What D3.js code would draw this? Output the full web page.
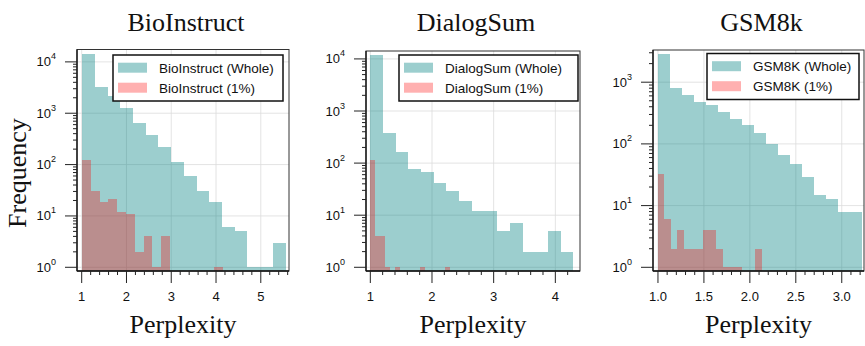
<!DOCTYPE html>
<html><head><meta charset="utf-8">
<script src="https://cdn.jsdelivr.net/npm/d3@7"></script>
<style>
body{margin:0;background:#fff;}
svg{display:block;}
</style></head>
<body><svg id="chart" width="865" height="346"></svg>
<script>
// ---------- data ----------
const panelTitles = ["BioInstruct", "DialogSum", "GSM8k"];
const legendWhole = ["BioInstruct (Whole)", "DialogSum (Whole)", "GSM8K (Whole)"];
const legendSubset = ["BioInstruct (1%)", "DialogSum (1%)", "GSM8K (1%)"];

// BioInstruct
const bioWholeStart = 1.01, bioWholeWidth = 0.284;
const bioWholeCounts = [14000, 3200, 2200, 1250, 650, 375, 220, 110, 60, 30, 19, 6, 5, 1, 1, 3];
const bioSubStart = 1.01, bioSubWidth = 0.196;
const bioSubCounts = [122, 30, 19, 21, 12, 11, 2, 4, 1, 4, 0, 0, 0, 0, 0, 1];
const bioXTicks = [1, 2, 3, 4, 5];
const bioXDomain = [0.895, 5.63];
const bioYDomain = [0.847, 17420];
const bioYTicks = [1, 10, 100, 1000, 10000];

// DialogSum
const dlgWholeStart = 1.0, dlgWholeWidth = 0.2058;
const dlgWholeCounts = [11700, 380, 160, 76, 67, 42, 29, 19, 12, 12, 5, 7, 2, 2, 5, 2];
const dlgSubStart = 1.0, dlgSubWidth = 0.081;
const dlgSubCounts = [115, 4, 4, 1, 0, 1, 0, 0, 0, 0, 1, 0, 0, 0, 0, 1];
const dlgXTicks = [1, 2, 3, 4];
const dlgXDomain = [0.93, 4.40];
const dlgYDomain = [0.849, 14190];
const dlgYTicks = [1, 10, 100, 1000, 10000];

// GSM8k
const gsmWholeStart = 1.0, gsmWholeWidth = 0.1304;
const gsmWholeCounts = [2880, 820, 610, 475, 430, 335, 255, 204, 148, 100, 66, 47, 29, 15, 13, 8, 8];
const gsmSubStart = 1.0, gsmSubWidth = 0.0707;
const gsmSubCounts = [33, 6, 2, 4, 2, 2, 2, 4, 4, 2, 1, 1, 1, 0, 0, 2];
const gsmXTicks = [1.0, 1.5, 2.0, 2.5, 3.0];
const gsmXDomain = [0.946, 3.242];
const gsmYDomain = [0.871, 3325];
const gsmYTicks = [1, 10, 100, 1000];

// ---------- layout ----------
const layout = [
  {left: 77, right: 289, top: 49.5, bottom: 271, legX: 113, legW: 170, legY: 55, minor: 0.2, fmt: d3.format("d")},
  {left: 366, right: 580, top: 51, bottom: 271, legX: 399, legW: 179, legY: 55, minor: 0.2, fmt: d3.format("d")},
  {left: 653, right: 864, top: 50, bottom: 271, legX: 707, legW: 152, legY: 53.5, minor: 0.1, fmt: d3.format(".1f")}
];
const panels = [
  {wS: bioWholeStart, wW: bioWholeWidth, wC: bioWholeCounts, sS: bioSubStart, sW: bioSubWidth, sC: bioSubCounts, xt: bioXTicks, xd: bioXDomain, yd: bioYDomain, yt: bioYTicks},
  {wS: dlgWholeStart, wW: dlgWholeWidth, wC: dlgWholeCounts, sS: dlgSubStart, sW: dlgSubWidth, sC: dlgSubCounts, xt: dlgXTicks, xd: dlgXDomain, yd: dlgYDomain, yt: dlgYTicks},
  {wS: gsmWholeStart, wW: gsmWholeWidth, wC: gsmWholeCounts, sS: gsmSubStart, sW: gsmSubWidth, sC: gsmSubCounts, xt: gsmXTicks, xd: gsmXDomain, yd: gsmYDomain, yt: gsmYTicks}
];

const tealFill = "rgb(0,128,128)", tealOp = 0.39;
const redFill = "rgb(255,0,0)", redOp = 0.31;
const sansFont = "'Liberation Sans', Arial, Helvetica, sans-serif";
const serifFont = "'Liberation Serif', 'Times New Roman', serif";

const svg = d3.select("#chart");

panels.forEach((p, i) => {
  const L = layout[i];
  const x = d3.scaleLinear().domain(p.xd).range([L.left, L.right]);
  const y = d3.scaleLog().domain(p.yd).range([L.bottom, L.top]);
  const g = svg.append("g");

  // grid
  g.selectAll("line.gx").data(p.xt).enter().append("line")
    .attr("x1", d => x(d)).attr("x2", d => x(d)).attr("y1", L.top).attr("y2", L.bottom)
    .attr("stroke", "#dcdcdc").attr("stroke-width", 0.8);
  g.selectAll("line.gy").data(p.yt).enter().append("line")
    .attr("y1", d => y(d)).attr("y2", d => y(d)).attr("x1", L.left).attr("x2", L.right)
    .attr("stroke", "#dcdcdc").attr("stroke-width", 0.8);

  // bars
  const whole = p.wC.map((c, k) => ({x0: p.wS + k * p.wW, x1: p.wS + (k + 1) * p.wW, c})).filter(d => d.c > 0);
  const sub = p.sC.map((c, k) => ({x0: p.sS + k * p.sW, x1: p.sS + (k + 1) * p.sW, c})).filter(d => d.c > 0);
  g.selectAll("rect.w").data(whole).enter().append("rect")
    .attr("x", d => x(d.x0)).attr("width", d => x(d.x1) - x(d.x0))
    .attr("y", d => y(d.c)).attr("height", d => L.bottom - y(d.c))
    .attr("fill", tealFill).attr("fill-opacity", tealOp).attr("shape-rendering", "crispEdges");
  g.selectAll("rect.s").data(sub).enter().append("rect")
    .attr("x", d => x(d.x0)).attr("width", d => x(d.x1) - x(d.x0))
    .attr("y", d => y(d.c)).attr("height", d => L.bottom - y(d.c))
    .attr("fill", redFill).attr("fill-opacity", redOp).attr("shape-rendering", "crispEdges");

  // frame
  g.append("rect").attr("x", L.left).attr("y", L.top).attr("width", L.right - L.left).attr("height", L.bottom - L.top)
    .attr("fill", "none").attr("stroke", "#333").attr("stroke-width", 1);
  g.append("line").attr("x1", L.left).attr("x2", L.left).attr("y1", L.top).attr("y2", L.bottom)
    .attr("stroke", "#111").attr("stroke-width", 1.3);
  g.append("line").attr("x1", L.left).attr("x2", L.right).attr("y1", L.bottom).attr("y2", L.bottom)
    .attr("stroke", "#111").attr("stroke-width", 1.3);

  // x ticks
  const minorX = d3.range(Math.ceil(p.xd[0] / L.minor) * L.minor, p.xd[1], L.minor)
    .filter(v => !p.xt.some(t => Math.abs(t - v) < 1e-6));
  g.selectAll("line.mx").data(minorX).enter().append("line")
    .attr("x1", d => x(d)).attr("x2", d => x(d)).attr("y1", L.bottom).attr("y2", L.bottom + 4)
    .attr("stroke", "#222").attr("stroke-width", 1);
  g.selectAll("line.tx").data(p.xt).enter().append("line")
    .attr("x1", d => x(d)).attr("x2", d => x(d)).attr("y1", L.bottom).attr("y2", L.bottom + 12)
    .attr("stroke", "#222").attr("stroke-width", 1);
  g.selectAll("text.tx").data(p.xt).enter().append("text")
    .attr("x", d => x(d)).attr("y", L.bottom + 30)
    .attr("text-anchor", "middle").attr("font-family", sansFont).attr("font-size", 13)
    .attr("fill", "#111").text(d => L.fmt(d));

  // y ticks
  const minorY = [];
  p.yt.forEach(t => { for (let m = 2; m <= 9; m++) { const v = t * m; if (v <= p.yd[1]) minorY.push(v); } });
  g.selectAll("line.my").data(minorY).enter().append("line")
    .attr("x1", L.left - 4).attr("x2", L.left).attr("y1", d => y(d)).attr("y2", d => y(d))
    .attr("stroke", "#222").attr("stroke-width", 1);
  g.selectAll("line.ty").data(p.yt).enter().append("line")
    .attr("x1", L.left - 12).attr("x2", L.left).attr("y1", d => y(d)).attr("y2", d => y(d))
    .attr("stroke", "#222").attr("stroke-width", 1);
  const yl = g.selectAll("text.ty").data(p.yt).enter().append("text")
    .attr("x", L.left - 21).attr("y", d => y(d) + 4.5)
    .attr("text-anchor", "end").attr("font-family", sansFont).attr("font-size", 13).attr("fill", "#111");
  yl.append("tspan").text("10");
  yl.append("tspan").attr("dy", -7).attr("font-size", 9).text(d => Math.round(Math.log10(d)));

  // title
  g.append("text").attr("x", (L.left + L.right) / 2 + 3).attr("y", 31)
    .attr("text-anchor", "middle").attr("font-family", serifFont).attr("font-size", 26)
    .attr("fill", "#111").text(panelTitles[i]);
  // x label
  g.append("text").attr("x", (L.left + L.right) / 2).attr("y", 333)
    .attr("text-anchor", "middle").attr("font-family", serifFont).attr("font-size", 26)
    .attr("fill", "#111").text("Perplexity");

  // legend
  const lg = g.append("g");
  lg.append("rect").attr("x", L.legX).attr("y", L.legY).attr("width", L.legW).attr("height", 46)
    .attr("fill", "#fff").attr("stroke", "#111").attr("stroke-width", 1.5);
  const rows = [{t: legendWhole[i], f: tealFill, o: tealOp}, {t: legendSubset[i], f: redFill, o: redOp}];
  rows.forEach((r, k) => {
    const cy = L.legY + 12.7 + k * 20;
    lg.append("rect").attr("x", L.legX + 5).attr("y", cy - 5).attr("width", 29).attr("height", 10)
      .attr("fill", r.f).attr("fill-opacity", r.o);
    lg.append("text").attr("x", L.legX + 46).attr("y", cy + 4.8)
      .attr("font-family", sansFont).attr("font-size", 13.5).attr("fill", "#111").text(r.t);
  });
});

// y label
svg.append("text").attr("transform", "translate(26,173) rotate(-90)")
  .attr("text-anchor", "middle").attr("font-family", serifFont).attr("font-size", 26)
  .attr("fill", "#111").text("Frequency");
</script>
</body></html>
